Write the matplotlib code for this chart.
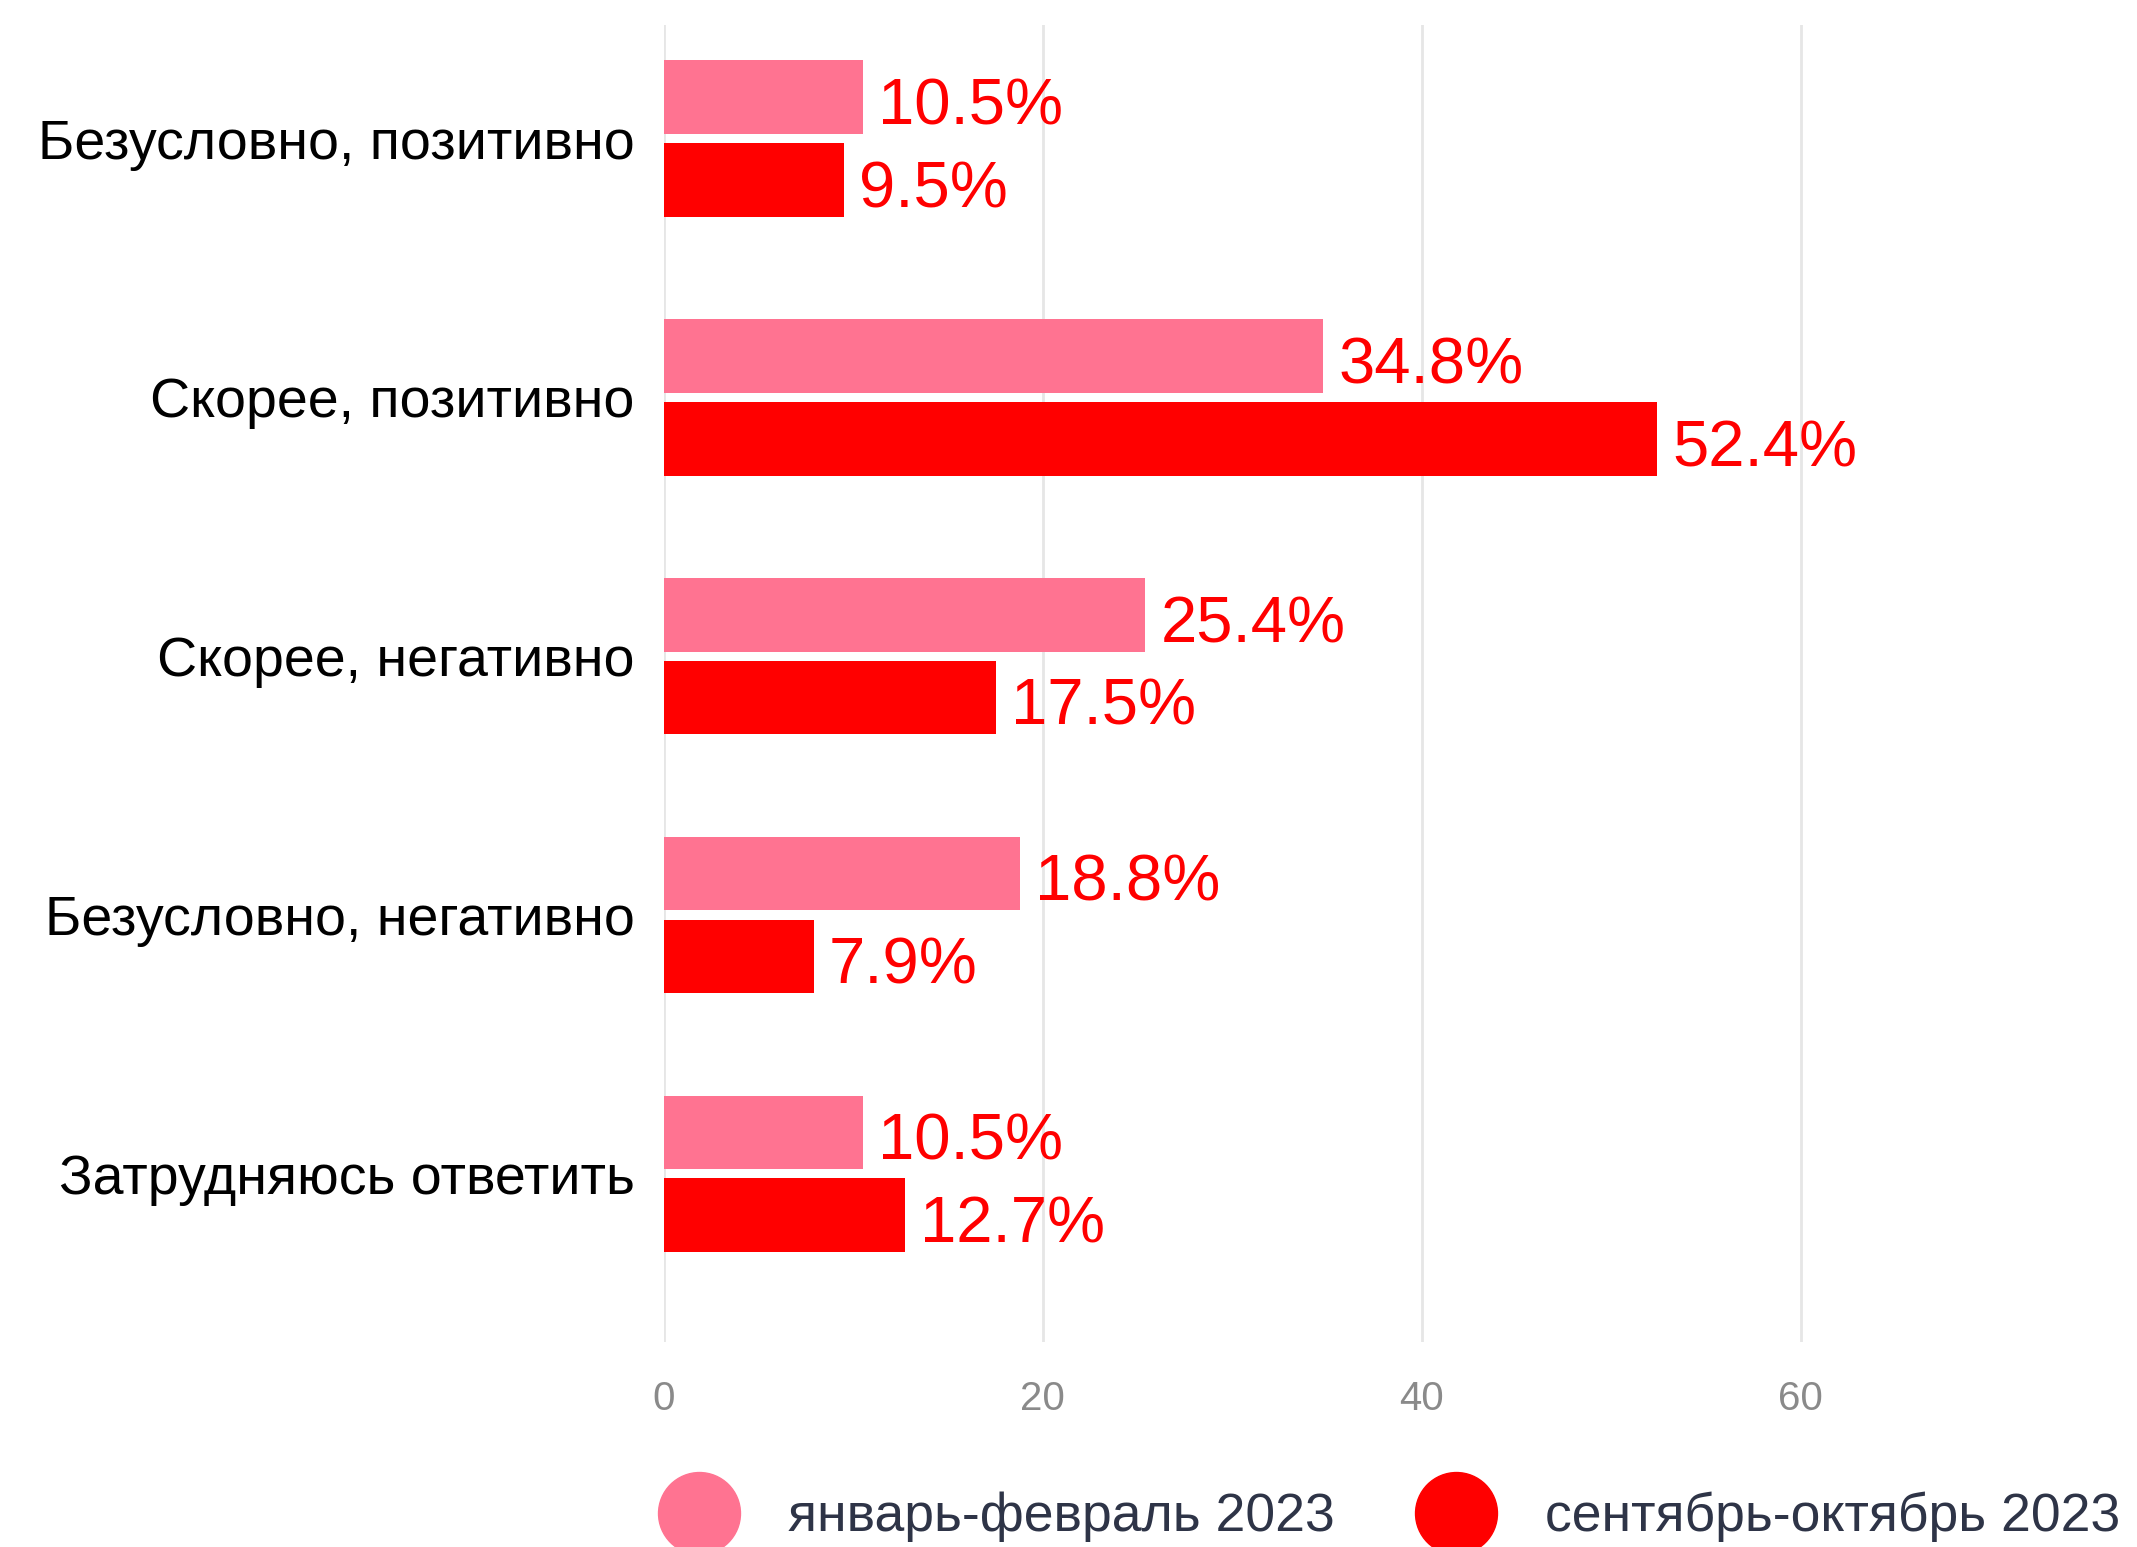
import matplotlib.pyplot as plt
import numpy as np
from matplotlib.lines import Line2D

plt.rcParams['font.family'] = ['Liberation Sans', 'DejaVu Sans']

categories = ['Безусловно, позитивно', 'Скорее, позитивно', 'Скорее, негативно',
              'Безусловно, негативно', 'Затрудняюсь ответить']
jan_feb = [10.5, 34.8, 25.4, 18.8, 10.5]
sep_oct = [9.5, 52.4, 17.5, 7.9, 12.7]
series_names = ['январь-февраль 2023', 'сентябрь-октябрь 2023']
xticks = [0, 20, 40, 60]

pink = '#ff7391'
red = '#ff0000'

fig = plt.figure(figsize=(21.37, 15.47), dpi=100)
ax = fig.add_axes([0.3107, 0.1325, 0.665, 0.8515])

y = np.arange(len(categories))
h = 0.285
off = 0.16
ax.barh(y - off, jan_feb, height=h, color=pink, zorder=3)
ax.barh(y + off, sep_oct, height=h, color=red, zorder=3)

for yi, v in zip(y - off, jan_feb):
    ax.text(v + 0.8, yi + 0.04, f'{v}%', color=red, fontsize=47, va='center', ha='left')
for yi, v in zip(y + off, sep_oct):
    ax.text(v + 0.8, yi + 0.04, f'{v}%', color=red, fontsize=47, va='center', ha='left')

ax.set_xlim(0, 75)
ax.set_ylim(len(categories) - 1 + 0.65, -0.44)
ax.set_yticks(y)
ax.set_yticklabels(categories, fontsize=40, color='black')
ax.set_xticks(xticks)
ax.set_xticklabels([str(t) for t in xticks], fontsize=29, color='#8a8a8a')
ax.tick_params(axis='y', length=0, pad=21)
ax.tick_params(axis='x', length=0, pad=27)
ax.grid(axis='x', color='#e6e6e6', linewidth=2, zorder=0)
for s in ax.spines.values():
    s.set_visible(False)

handles = [Line2D([], [], marker='o', linestyle='none', markersize=59, color=c)
           for c in (pink, red)]
fig.legend(handles, series_names, loc='center left', bbox_to_anchor=(0.302, 30 / 1547),
           ncol=2, frameon=False, fontsize=38.5, labelcolor='#2e3447',
           handletextpad=0.66, columnspacing=1.28, borderpad=0, borderaxespad=0)

fig.savefig('out.png', dpi=100)
